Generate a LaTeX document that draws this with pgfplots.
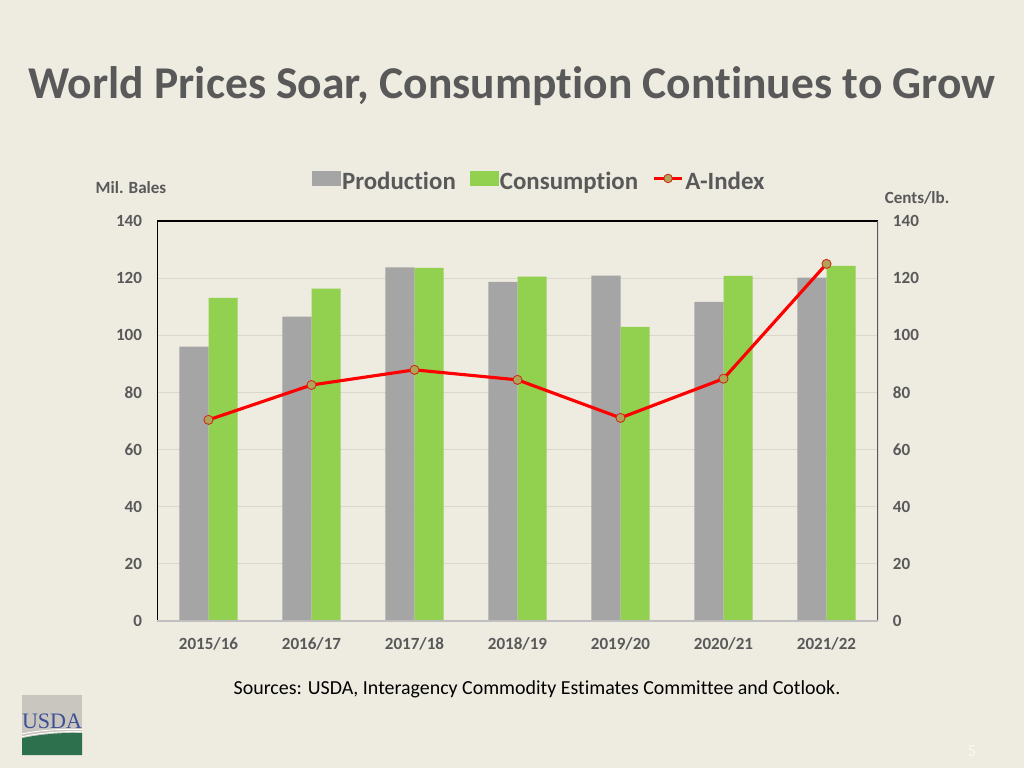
\documentclass[border=0pt]{standalone}
\usepackage{fontspec}
\setmainfont[Ligatures={NoCommon}]{Carlito}
\newfontfamily\logofont{Liberation Serif}
\usepackage{pgfplots}
\pgfplotsset{compat=1.18}
\definecolor{bg}{RGB}{238,235,225}
\definecolor{txt}{RGB}{89,89,89}
\definecolor{barg}{RGB}{165,165,165}
\definecolor{barc}{RGB}{146,208,80}
\definecolor{gridc}{RGB}{218,215,205}
\definecolor{mk}{RGB}{176,164,90}
\definecolor{mkedge}{RGB}{205,40,20}
\definecolor{botline}{RGB}{191,191,191}
\definecolor{logogray}{RGB}{200,198,190}
\definecolor{logoblue}{RGB}{62,80,150}
\definecolor{logogreen}{RGB}{44,112,78}

\pgfplotstableread{
x prod cons aidx
0 96.0  113.1 70.4
1 106.5 116.3 82.6
2 123.8 123.6 87.9
3 118.7 120.5 84.4
4 120.9 102.9 71.1
5 111.7 120.8 84.8
6 120.2 124.3 125.0
}\datatable

\begin{document}
\begin{tikzpicture}
\fill[bg] (0,0) rectangle (720pt,-540pt);
\node[font=\fontsize{32}{36}\selectfont\bfseries, text=txt] at (360pt,-60.5pt) {World Prices Soar, Consumption Continues to Grow};
\node[font=\fontsize{12}{14}\selectfont\bfseries, text=txt] at (92.1pt,-132.2pt) {Mil. Bales};
\node[font=\fontsize{12}{14}\selectfont\bfseries, text=txt] at (644.8pt,-139.2pt) {Cents/lb.};
\node[font=\fontsize{14}{16}\selectfont, text=black] at (377.6pt,-484.5pt) {Sources: USDA, Interagency Commodity Estimates Committee and Cotlook.};
\node[font=\fontsize{12}{14}\selectfont, text={rgb,255:red,250;green,248;blue,240}] at (683.4pt,-528pt) {5};
% logo
\fill[logogray] (15.5pt,-488.7pt) rectangle (57.7pt,-530.9pt);
\fill[logogreen] (15.5pt,-530.9pt) -- (15.5pt,-519pt) .. controls (30pt,-516pt) and (45pt,-515pt) .. (57.7pt,-515.5pt) -- (57.7pt,-530.9pt) -- cycle;
\draw[white, line width=0.6pt] (15.5pt,-516pt) .. controls (30pt,-513pt) and (45pt,-512.5pt) .. (57.7pt,-513pt);
\draw[white, line width=0.6pt] (15.5pt,-518pt) .. controls (30pt,-515pt) and (45pt,-514pt) .. (57.7pt,-514.5pt);
\node[font=\fontsize{15.5}{16}\selectfont\logofont, text=logoblue, inner sep=0pt] at (36.6pt,-507.5pt) {USDA};

\begin{axis}[
  at={(110.39pt,-436.64pt)}, anchor=south west,
  scale only axis, width=506.95pt, height=281.25pt,
  xmin=-0.5, xmax=6.5, ymin=0, ymax=140,
  ybar=0pt, bar width=20.4pt,
  xtick={0,...,6},
  xticklabels={2015/16,2016/17,2017/18,2018/19,2019/20,2020/21,2021/22},
  ytick={0,20,...,140},
  ymajorgrids, major grid style={gridc, line width=0.7pt},
  tick style={draw=none},
  axis line style={draw=none},
  /pgf/number format/assume math mode=true,
  ticklabel style={font=\fontsize{12}{14}\selectfont\bfseries, text=txt},
  yticklabel style={anchor=east, xshift=-7pt},
  xticklabel style={yshift=-4pt},
  legend columns=3,
  legend style={at={(0.53,1.0975)}, anchor=center, draw=none, fill=none,
    font=\fontsize{17.5}{20}\selectfont\bfseries, text=txt,
    nodes={inner xsep=1pt, inner ysep=2pt},
    /tikz/every even column/.append style={column sep=9pt}},
]
\addplot[fill=barg, draw=none, legend image code/.code={\fill[barg] (0pt,-3pt) rectangle (20pt,8pt);}] table[x=x, y=prod] {\datatable};
\addlegendentry{Production}
\addplot[fill=barc, draw=none, legend image code/.code={\fill[barc] (0pt,-3pt) rectangle (20pt,8pt);}] table[x=x, y=cons] {\datatable};
\addlegendentry{Consumption}
\addlegendimage{legend image code/.code={\draw[red, line width=2.2pt] (0pt,2.5pt) -- (20pt,2.5pt); \draw[fill=mk, draw=mkedge, line width=0.6pt] (10pt,2.5pt) circle (3pt);}}
\addlegendentry{A-Index}
\draw[black, line width=0.8pt] (rel axis cs:0,0) -- (rel axis cs:0,1) -- (rel axis cs:1,1);
\draw[txt, line width=0.8pt] (rel axis cs:1,1) -- (rel axis cs:1,0);
\draw[botline, line width=1pt] (rel axis cs:0,0) -- (rel axis cs:1,0);
\end{axis}

\begin{axis}[
  at={(110.39pt,-436.64pt)}, anchor=south west,
  scale only axis, width=506.95pt, height=281.25pt,
  xmin=-0.5, xmax=6.5, ymin=0, ymax=140,
  axis y line*=right, hide x axis,
  axis line style={draw=none},
  ytick={0,20,...,140},
  tick style={draw=none},
  /pgf/number format/assume math mode=true,
  ticklabel style={font=\fontsize{12}{14}\selectfont\bfseries, text=txt},
  yticklabel style={anchor=west, xshift=7pt},
]
\addplot[red, line width=2.2pt, mark=*, mark size=3.2pt, mark options={fill=mk, draw=mkedge, line width=0.6pt}] table[x=x, y=aidx] {\datatable};
\end{axis}
\end{tikzpicture}
\end{document}
